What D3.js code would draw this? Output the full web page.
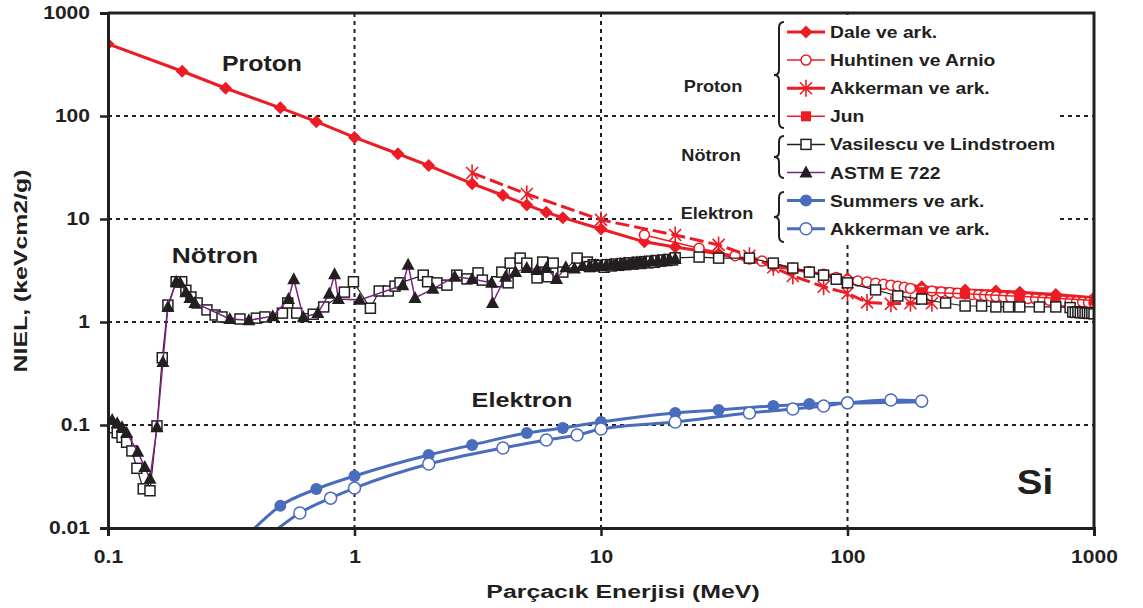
<!DOCTYPE html>
<html>
<head>
<meta charset="utf-8">
<script src="https://cdn.jsdelivr.net/npm/d3@7"></script>
<style>
  body { margin: 0; background: #fff; }
  svg { font-family: "Liberation Sans", Arial, sans-serif; font-weight: bold; }
</style>
</head>
<body>
<svg id="chart"></svg>
<script>
// ---- data: [energy MeV, NIEL keVcm2/g] ----
const dale = [[0.1,500],[0.2,272],[0.3,186],[0.5,120],[0.7,88],[1,62],[1.5,43],[2,33],[3,22],[4,17],[5,13.7],[6,11.6],[7,10.3],[10,8],[15,6],[20,5.35],[30,4.6],[50,3.5],[100,2.65],[200,2.2],[300,2.05],[400,2.0],[500,1.95],[700,1.85],[1000,1.72]];
const huhtinen = [[15,7.0],[25,5.2],[35,4.4],[40,4.1],[45,3.9],[50,3.7],[60,3.35],[70,3.1],[80,2.9],[90,2.7],[100,2.56],[110,2.5],[120,2.45],[130,2.38],[140,2.32],[150,2.28],[160,2.22],[170,2.17],[180,2.12],[200,2.05],[220,2.0],[240,1.96],[260,1.93],[280,1.9],[300,1.87],[320,1.85],[340,1.83],[360,1.81],[380,1.79],[400,1.77],[430,1.75],[460,1.73],[500,1.71],[540,1.69],[580,1.67],[620,1.65],[660,1.63],[700,1.62],[750,1.6],[800,1.58],[850,1.57],[900,1.56],[950,1.55],[1000,1.54]];
const akkermanP = [[3,28],[5,17.5],[10,9.8],[20,7.0],[30,5.6],[40,4.4],[50,3.4],[60,2.8],[80,2.2],[100,1.9],[120,1.55],[150,1.5],[180,1.52],[220,1.52]];
const jun = [[200,1.95],[300,1.88],[500,1.78],[700,1.7],[1000,1.62]];
const vasilescu = [[0.104,0.094],[0.109,0.084],[0.114,0.076],[0.119,0.068],[0.125,0.056],[0.131,0.038],[0.139,0.024],[0.148,0.023],[0.158,0.098],[0.166,0.45],[0.175,1.46],[0.189,2.46],[0.199,2.46],[0.207,2.03],[0.217,1.75],[0.23,1.53],[0.252,1.31],[0.272,1.17],[0.29,1.12],[0.343,1.07],[0.40,1.09],[0.433,1.12],[0.51,1.22],[0.536,1.53],[0.583,1.22],[0.68,1.19],[0.75,1.40],[0.91,1.95],[0.99,2.46],[1.16,1.36],[1.26,2.0],[1.37,2.0],[1.46,2.23],[1.53,2.4],[1.9,2.85],[1.98,2.46],[2.16,2.4],[2.37,2.28],[2.6,2.85],[2.86,2.62],[3.17,3.0],[3.3,2.55],[3.78,2.46],[3.96,3.05],[4.2,2.4],[4.28,3.73],[4.7,4.17],[5.0,3.73],[5.5,2.68],[5.8,3.82],[6.1,2.75],[6.4,3.73],[7.0,3.05],[8.0,4.17],[8.8,3.82],[9.0,3.45],[9.3,3.6],[9.6,3.5],[10,3.55],[10.3,3.4],[10.6,3.6],[11,3.5],[11.4,3.65],[11.8,3.55],[12.2,3.7],[12.6,3.6],[13,3.75],[13.5,3.65],[14,3.8],[14.5,3.7],[15,3.85],[15.5,3.75],[16,3.9],[16.5,3.8],[17,3.95],[17.5,3.9],[18,4.0],[18.5,3.95],[19,4.05],[19.5,4.0],[20,4.2],[25,4.27],[30,4.17],[40,4.17],[50,3.73],[60,3.34],[70,3.05],[80,2.85],[90,2.6],[100,2.4],[130,2.05],[160,1.79],[200,1.67],[250,1.53],[300,1.43],[350,1.43],[400,1.40],[450,1.40],[500,1.40],[600,1.40],[700,1.40],[800,1.38],[820,1.25],[840,1.24],[860,1.25],[880,1.23],[900,1.24],[920,1.22],[940,1.23],[960,1.21],[980,1.22],[1000,1.2]];
const astm = [[0.104,0.112],[0.109,0.104],[0.114,0.095],[0.119,0.084],[0.132,0.055],[0.141,0.039],[0.148,0.030],[0.158,0.095],[0.167,0.41],[0.175,1.40],[0.189,2.46],[0.196,2.40],[0.207,1.95],[0.215,1.71],[0.225,1.53],[0.312,1.07],[0.373,1.04],[0.466,1.14],[0.54,1.67],[0.567,2.6],[0.62,1.11],[0.71,1.22],[0.79,1.88],[0.83,2.9],[0.86,1.67],[1.05,1.64],[1.57,2.28],[1.65,3.6],[1.76,1.71],[2.08,2.1],[2.55,2.75],[3.0,2.62],[3.6,2.4],[3.63,1.53],[4.1,2.75],[4.5,3.05],[5.0,3.34],[5.5,3.2],[6.0,3.34],[6.6,2.62],[7.2,3.4],[7.8,3.3],[8.4,3.5],[9,3.45],[9.5,3.55],[10,3.5],[10.5,3.55],[11,3.6],[11.5,3.55],[12,3.65],[12.5,3.7],[13,3.65],[13.5,3.75],[14,3.8],[14.5,3.75],[15,3.85],[16,3.9],[17,3.95],[18,4.0],[19,4.05],[20,4.1]];
const summers = [[0.38,0.0092],[0.5,0.0164],[0.7,0.0239],[1,0.032],[2,0.0512],[3,0.064],[5,0.0836],[7,0.0935],[10,0.107],[20,0.131],[30,0.14],[50,0.153],[70,0.16],[100,0.163],[200,0.168]];
const akkermanE = [[0.47,0.0092],[0.6,0.014],[0.8,0.0195],[1,0.0244],[2,0.0418],[4,0.0598],[6,0.0715],[8,0.08],[10,0.0914],[20,0.107],[40,0.131],[60,0.143],[80,0.153],[100,0.164],[150,0.175],[200,0.171]];

const xTicks = [0.1, 1, 10, 100, 1000];
const yTicks = [0.01, 0.1, 1, 10, 100, 1000];
const legendNames = ["Dale ve ark.", "Huhtinen ve Arnio", "Akkerman ve ark.", "Jun", "Vasilescu ve Lindstroem", "ASTM E 722", "Summers ve ark.", "Akkerman ve ark."];
const groupNames = ["Proton", "Nötron", "Elektron"];

// ---- setup ----
const width = 1143, height = 608;
const margin = {top: 13, right: 48, bottom: 80, left: 108};
const red = "#ed1c24", blue = "#4a6cbd", ink = "#231f20", purple = "#7b2282";
const SX = 1.17; // the original lettering is a wide bold sans

const svg = d3.select("#chart").attr("width", width).attr("height", height);

const x = d3.scaleLog().domain([0.1, 1000]).range([margin.left, width - margin.right - 1]);
const y = d3.scaleLog().domain([0.01, 1000]).range([height - margin.bottom, margin.top]);

// move x/y into a transform so the text can be widened around its anchor
function wide(sel, sx, extra = "") {
  sel.each(function() {
    const t = d3.select(this);
    const tx = +t.attr("x") || 0, ty = +t.attr("y") || 0;
    t.attr("x", 0).attr("y", 0).attr("transform", `translate(${tx},${ty}) ${extra} scale(${sx},1)`);
  });
}

svg.append("defs").append("clipPath").attr("id", "plot")
  .append("rect")
  .attr("x", x.range()[0]).attr("y", y.range()[1])
  .attr("width", x.range()[1] - x.range()[0]).attr("height", y.range()[0] - y.range()[1]);

// grid
const grid = svg.append("g").attr("stroke", ink).attr("stroke-width", 2).attr("stroke-dasharray", "4,4");
grid.selectAll(".h").data(yTicks.slice(1, -1)).join("line")
  .attr("x1", x.range()[0]).attr("x2", x.range()[1]).attr("y1", y).attr("y2", y);
grid.selectAll(".v").data(xTicks.slice(1, -1)).join("line")
  .attr("y1", y.range()[1]).attr("y2", y.range()[0]).attr("x1", x).attr("x2", x);

// legend background hides grid
svg.append("rect").attr("x", 775).attr("y", 15).attr("width", 283).attr("height", 228).attr("fill", "#fff");
svg.append("rect").attr("x", 672).attr("y", 200).attr("width", 103).attr("height", 36).attr("fill", "#fff");

// ---- markers ----
const markers = {
  diamond: g => g.append("path").attr("d", "M0,-6.5L6.5,0L0,6.5L-6.5,0Z").attr("fill", red),
  circleRed: g => g.append("circle").attr("r", 5).attr("fill", "#fff").attr("stroke", red).attr("stroke-width", 1.5),
  star: g => g.append("path").attr("d", "M-6,-6L6,6M-6,6L6,-6M0,-8.5L0,8.5").attr("stroke", red).attr("stroke-width", 1.6).attr("fill", "none"),
  squareRed: g => g.append("rect").attr("x", -5).attr("y", -5).attr("width", 10).attr("height", 10).attr("fill", red),
  squareOpen: g => g.append("rect").attr("x", -5).attr("y", -5).attr("width", 10).attr("height", 10).attr("fill", "#fff").attr("stroke", ink).attr("stroke-width", 1.5),
  triangle: g => g.append("path").attr("d", "M0,-7L6.5,5L-6.5,5Z").attr("fill", ink),
  dotBlue: g => g.append("circle").attr("r", 6).attr("fill", blue),
  circleBlue: g => g.append("circle").attr("r", 6).attr("fill", "#fff").attr("stroke", blue).attr("stroke-width", 1.5)
};

const series = [
  {data: dale, color: red, width: 3, dash: null, marker: "diamond"},
  {data: huhtinen, color: red, width: 1.5, dash: null, marker: "circleRed"},
  {data: akkermanP, color: red, width: 3, dash: "14,5", marker: "star"},
  {data: jun, color: red, width: 1.5, dash: null, marker: "squareRed"},
  {data: vasilescu, color: ink, width: 1.2, dash: null, marker: "squareOpen"},
  {data: astm, color: purple, width: 1.5, dash: null, marker: "triangle"},
  {data: summers, color: blue, width: 3, dash: null, marker: "dotBlue", curve: d3.curveMonotoneX},
  {data: akkermanE, color: blue, width: 3, dash: null, marker: "circleBlue", curve: d3.curveMonotoneX}
];

const plot = svg.append("g").attr("clip-path", "url(#plot)");
series.forEach(s => {
  const line = d3.line().x(d => x(d[0])).y(d => y(d[1])).curve(s.curve || d3.curveLinear);
  plot.append("path").datum(s.data)
    .attr("fill", "none").attr("stroke", s.color).attr("stroke-width", s.width)
    .attr("stroke-dasharray", s.dash).attr("d", line);
  plot.append("g").selectAll("g")
    .data(s.data.filter(d => d[1] >= 0.01))
    .join("g")
    .attr("transform", d => `translate(${x(d[0])},${y(d[1])})`)
    .each(function() { markers[s.marker](d3.select(this)); });
});

// ---- axes ----
const yAxis = svg.append("g").attr("transform", `translate(${x.range()[0]},0)`)
  .call(d3.axisLeft(y).tickValues(yTicks).tickFormat(d3.format("~g")).tickSize(8).tickPadding(10));
const xAxis = svg.append("g").attr("transform", `translate(0,${y.range()[0]})`)
  .call(d3.axisBottom(x).tickValues(xTicks).tickFormat(d3.format("~g")).tickSize(8).tickPadding(14));
[xAxis, yAxis].forEach(a => {
  a.select(".domain").attr("stroke", ink).attr("stroke-width", 3);
  a.selectAll(".tick line").attr("stroke", ink).attr("stroke-width", 2.5);
  a.selectAll(".tick text").attr("fill", ink).attr("font-size", 18).attr("font-weight", "bold")
    .attr("font-family", "Liberation Sans, Arial, sans-serif");
});
xAxis.selectAll(".tick text").attr("transform", `scale(${SX},1)`);
yAxis.selectAll(".tick text").attr("x", -18 / SX).attr("transform", `scale(${SX},1)`);

// frame top & right
svg.append("path").attr("fill", "none").attr("stroke", ink).attr("stroke-width", 3)
  .attr("d", `M${x.range()[0]},${y.range()[1]}H${x.range()[1]}V${y.range()[0]}`);

// axis titles
svg.append("text").attr("x", 623).attr("y", 598).attr("text-anchor", "middle")
  .attr("font-size", 18).attr("fill", ink).text("Parçacık Enerjisi (MeV)")
  .call(wide, 1.38);
svg.append("text").attr("x", 27).attr("y", 271).attr("text-anchor", "middle")
  .attr("font-size", 18).attr("fill", ink).text("NIEL, (keVcm2/g)")
  .call(wide, 1.38, "rotate(-90)");

// in-chart labels
const labels = [
  {t: groupNames[0], x: 262, y: 71, s: 22, sx: 1.13},
  {t: groupNames[1], x: 215, y: 263, s: 22, sx: 1.2},
  {t: groupNames[2], x: 522, y: 407, s: 21, sx: 1.2},
  {t: "Si", x: 1035, y: 494, s: 35, sx: 1.1}
];
svg.append("g").selectAll("text").data(labels).join("text")
  .attr("x", d => d.x).attr("y", d => d.y).attr("font-size", d => d.s)
  .attr("text-anchor", "middle").attr("fill", ink).text(d => d.t)
  .each(function(d) { wide(d3.select(this), d.sx); });

// ---- legend ----
const legend = svg.append("g");
const rowY = i => 32 + i * 28.1;
const row = legend.selectAll("g").data(series).join("g")
  .attr("transform", (d, i) => `translate(0,${rowY(i)})`);
row.append("line").attr("x1", 787).attr("x2", 825)
  .attr("stroke", d => d.color).attr("stroke-width", d => d.width === 3 ? 3 : 1.5);
row.append("g").attr("transform", "translate(806,0)")
  .each(function(d) { markers[d.marker](d3.select(this)); });
row.append("text").attr("x", 830).attr("y", 6).attr("font-size", 16.5).attr("fill", ink)
  .text((d, i) => legendNames[i])
  .call(wide, 1.17);

const groups = [
  {name: groupNames[0], x: 713, ty: 92, y0: 22, y1: 128},
  {name: groupNames[1], x: 711, ty: 161, y0: 136, y1: 178},
  {name: groupNames[2], x: 717, ty: 219, y0: 192, y1: 242}
];
const brace = (bx, y0, y1) => {
  const m = (y0 + y1) / 2;
  return `M${bx + 7},${y0} Q${bx + 2},${y0} ${bx + 2},${y0 + 6} V${m - 5} Q${bx + 2},${m} ${bx - 3},${m} Q${bx + 2},${m} ${bx + 2},${m + 5} V${y1 - 6} Q${bx + 2},${y1} ${bx + 7},${y1}`;
};
legend.append("g").selectAll("path").data(groups).join("path")
  .attr("d", d => brace(777, d.y0, d.y1)).attr("fill", "none").attr("stroke", ink).attr("stroke-width", 2);
legend.append("g").selectAll("text").data(groups).join("text")
  .attr("x", d => d.x).attr("y", d => d.ty).attr("text-anchor", "middle")
  .attr("font-size", 16.5).attr("fill", ink).text(d => d.name)
  .call(wide, 1.1);
</script>
</body>
</html>
